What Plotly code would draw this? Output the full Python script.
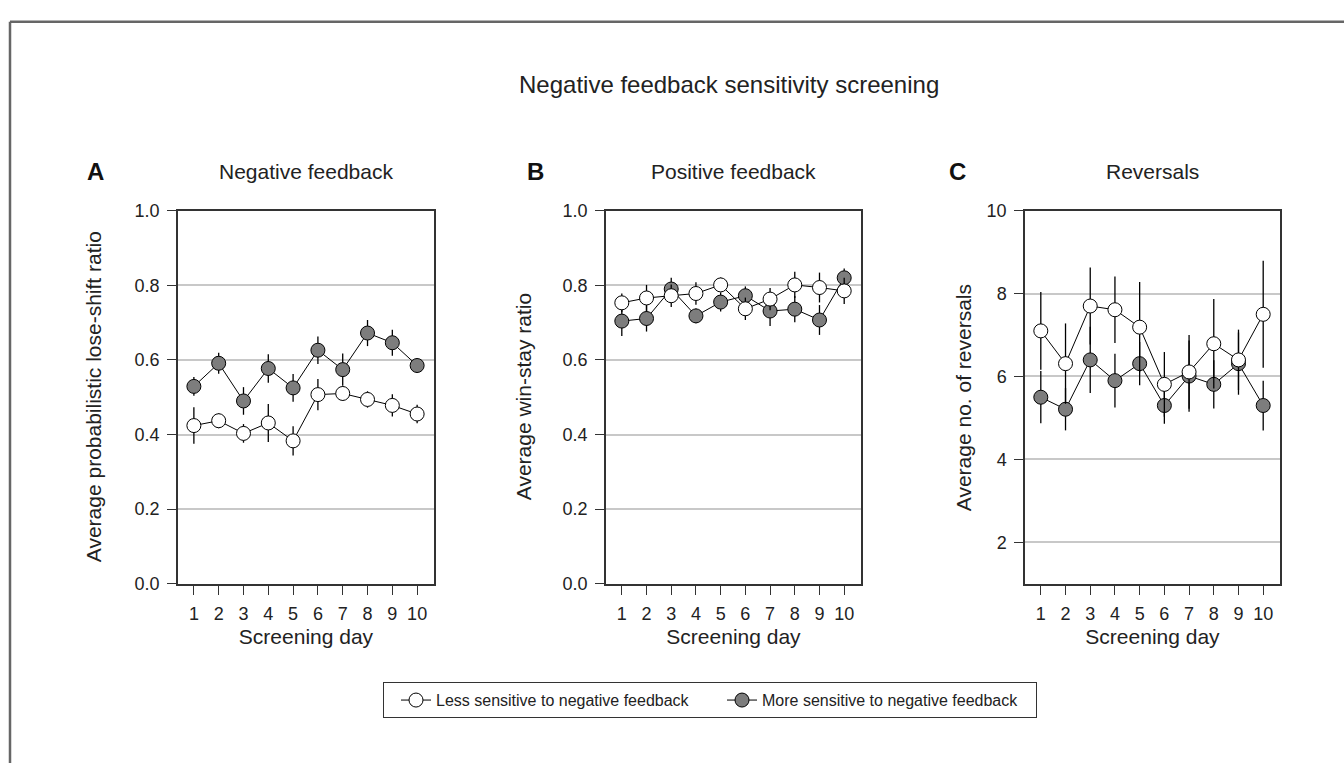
import plotly.graph_objects as go

days = [1, 2, 3, 4, 5, 6, 7, 8, 9, 10]

# Panel A: Negative feedback (probabilistic lose-shift ratio)
a_less = [0.424, 0.437, 0.403, 0.431, 0.383, 0.507, 0.510, 0.494, 0.478, 0.455]
a_less_err = [0.049, 0.020, 0.025, 0.051, 0.039, 0.042, 0.020, 0.022, 0.030, 0.025]
a_more = [0.529, 0.591, 0.490, 0.577, 0.525, 0.626, 0.574, 0.672, 0.646, 0.585]
a_more_err = [0.025, 0.028, 0.037, 0.038, 0.037, 0.037, 0.043, 0.035, 0.035, 0.020]

# Panel B: Positive feedback (win-stay ratio)
b_less = [0.753, 0.766, 0.772, 0.778, 0.801, 0.737, 0.763, 0.801, 0.794, 0.785]
b_less_err = [0.025, 0.035, 0.030, 0.030, 0.020, 0.030, 0.030, 0.035, 0.040, 0.035]
b_more = [0.704, 0.711, 0.790, 0.718, 0.755, 0.772, 0.731, 0.736, 0.707, 0.820]
b_more_err = [0.040, 0.035, 0.030, 0.020, 0.025, 0.025, 0.040, 0.035, 0.040, 0.025]

# Panel C: Reversals
c_less = [7.10, 6.31, 7.70, 7.61, 7.19, 5.81, 6.11, 6.79, 6.40, 7.50]
c_less_err = [0.94, 0.97, 0.93, 0.80, 1.09, 0.78, 0.89, 1.08, 0.73, 1.29]
c_more = [5.50, 5.21, 6.40, 5.90, 6.31, 5.30, 6.01, 5.81, 6.31, 5.30]
c_more_err = [0.63, 0.51, 0.80, 0.65, 0.52, 0.44, 0.86, 0.58, 0.75, 0.60]

label_less = "Less sensitive to negative feedback"
label_more = "More sensitive to negative feedback"
main_title = "Negative feedback sensitivity screening"
panel_titles = ["Negative feedback", "Positive feedback", "Reversals"]
panel_letters = ["A", "B", "C"]
y_titles = ["Average probabilistic lose-shift ratio", "Average win-stay ratio", "Average no. of reversals"]
x_title = "Screening day"

W, H = 1344, 773
FONT = "Liberation Sans, Arial, Helvetica, sans-serif"
TXT = "#222222"
AX = "#333333"
GRAY = "#7d7d7d"

def px(x):
    return x / W

def py(y):
    return 1 - y / H

panels = [
    (178, 434, a_less, a_less_err, a_more, a_more_err, [0.0, 1.0], [0, 0.2, 0.4, 0.6, 0.8, 1.0], ".1f"),
    (606, 861, b_less, b_less_err, b_more, b_more_err, [0.0, 1.0], [0, 0.2, 0.4, 0.6, 0.8, 1.0], ".1f"),
    (1025, 1280, c_less, c_less_err, c_more, c_more_err, [1.0, 10.0], [2, 4, 6, 8, 10], "d"),
]
top_px, bot_px = 206, 589

fig = go.Figure()
annotations = []
for i, (x0, x1, less, less_e, more, more_e, yr, yt, fmt) in enumerate(panels):
    n = "" if i == 0 else str(i + 1)
    xa, ya = "x" + n, "y" + n
    # gray drawn first so white sits on top
    fig.add_trace(go.Scatter(
        x=days, y=more, mode="lines+markers", name=label_more,
        xaxis=xa, yaxis=ya, showlegend=(i == 0), legendrank=2,
        line=dict(color="black", width=1),
        marker=dict(size=14, color=GRAY, line=dict(color="black", width=1)),
        error_y=dict(type="data", array=more_e, visible=True, color="black", thickness=1.3, width=0),
    ))
    fig.add_trace(go.Scatter(
        x=days, y=less, mode="lines+markers", name=label_less,
        xaxis=xa, yaxis=ya, showlegend=(i == 0), legendrank=1,
        line=dict(color="black", width=1),
        marker=dict(size=14, color="white", line=dict(color="black", width=1)),
        error_y=dict(type="data", array=less_e, visible=True, color="black", thickness=1.3, width=0),
    ))
    xkey = "xaxis" + n
    ykey = "yaxis" + n
    fig.layout[xkey] = dict(
        domain=[px(x0), px(x1)], anchor=ya, range=[0.36, 10.68],
        tickvals=days, ticks="outside", ticklen=9, tickwidth=1.3, tickcolor=AX,
        showline=True, linecolor=AX, linewidth=1.5, mirror=True, showgrid=False, zeroline=False,
        tickfont=dict(size=18, color=TXT, family=FONT),
        ticklabelstandoff=4,
        title=dict(text=x_title, font=dict(size=21, color=TXT, family=FONT), standoff=6),
        fixedrange=True,
    )
    fig.layout[ykey] = dict(
        domain=[py(bot_px), py(top_px)], anchor=xa, range=yr,
        tickvals=yt, tickformat=fmt, ticks="outside", ticklen=9, tickwidth=1.3, tickcolor=AX,
        showline=True, linecolor=AX, linewidth=1.5, mirror=True,
        showgrid=True, gridcolor="#c8c8c8", gridwidth=1.5, zeroline=False,
        tickfont=dict(size=18, color=TXT, family=FONT),
        ticklabelstandoff=4,
        fixedrange=True,
    )
    # y-axis title
    ytitle_x = [93, 523, 963][i]
    annotations.append(dict(
        text=y_titles[i], x=px(ytitle_x), y=py((top_px + bot_px) / 2), xref="paper", yref="paper",
        textangle=-90, showarrow=False, xanchor="center", yanchor="middle",
        font=dict(size=21, color=TXT, family=FONT),
    ))
    # panel subtitle
    annotations.append(dict(
        text=panel_titles[i], x=px((x0 + x1) / 2), y=py(166), xref="paper", yref="paper",
        showarrow=False, xanchor="center", yanchor="middle",
        font=dict(size=21, color=TXT, family=FONT),
    ))
    # panel letter
    letter_x = [95, 535, 957][i]
    annotations.append(dict(
        text="<b>" + panel_letters[i] + "</b>", x=px(letter_x), y=py(166), xref="paper", yref="paper",
        showarrow=False, xanchor="center", yanchor="middle",
        font=dict(size=24, color="#111111", family=FONT),
    ))

annotations.append(dict(
    text=main_title, x=px(729), y=py(76), xref="paper", yref="paper",
    showarrow=False, xanchor="center", yanchor="middle",
    font=dict(size=24, color=TXT, family=FONT),
))

shapes = [
    dict(type="line", xref="paper", yref="paper", x0=px(10), x1=1.0, y0=py(12), y1=py(12),
         line=dict(color="#666666", width=2.5)),
    dict(type="line", xref="paper", yref="paper", x0=px(10), x1=px(10), y0=py(12), y1=0.0,
         line=dict(color="#666666", width=2.5)),
]

fig.update_layout(
    width=W, height=H,
    margin=dict(l=0, r=0, t=0, b=0),
    paper_bgcolor="white", plot_bgcolor="white",
    font=dict(family=FONT, color=TXT),
    annotations=annotations,
    shapes=shapes,
    showlegend=True,
    legend=dict(
        orientation="h", x=px(383), y=py(690), xanchor="left", yanchor="top",
        bordercolor=AX, borderwidth=1, bgcolor="white",
        font=dict(size=16, color=TXT, family=FONT),
        entrywidth=269, entrywidthmode="pixels", traceorder="normal",
        indentation=12,
        itemclick=False, itemdoubleclick=False,
    ),
)

fig.write_html("out.html")
